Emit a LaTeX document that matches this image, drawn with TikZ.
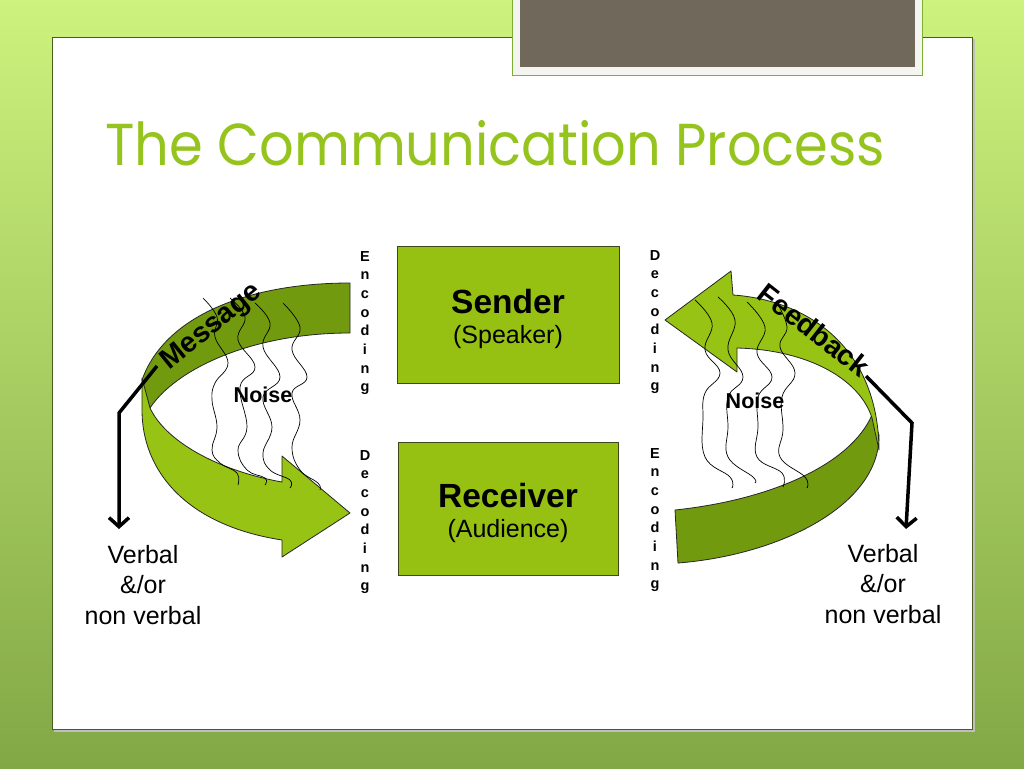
\documentclass[tikz,border=0pt]{standalone}
\usepackage{fontspec}
\setmainfont{Liberation Sans}
\newfontfamily\titlefont{Poppins}
\usetikzlibrary{arrows.meta}
\definecolor{bandlight}{RGB}{150,195,20}
\definecolor{banddark}{RGB}{114,154,14}
\definecolor{boxfill}{RGB}{150,192,18}
\definecolor{boxline}{RGB}{60,72,25}
\definecolor{titlegreen}{RGB}{150,196,30}
\definecolor{bgtop}{RGB}{205,242,125}
\definecolor{bgbot}{RGB}{130,168,70}
\definecolor{panelline}{RGB}{70,95,30}
\definecolor{photo}{RGB}{112,104,90}
\definecolor{frameedge}{RGB}{125,175,50}
\definecolor{framefill}{RGB}{244,244,240}
\tikzset{
  band/.style={draw=black!85, line width=0.8pt, line join=round},
  cbox/.style={draw=boxline, fill=boxfill, line width=1pt, inner sep=0pt},
  vlet/.style={font=\bfseries\fontsize{14.5}{18.7}\selectfont, align=center, inner sep=0pt},
  noise/.style={draw=black, line width=0.7pt},
  biglabel/.style={font=\bfseries\fontsize{28.5}{30}\selectfont, inner sep=0pt},
  noiselabel/.style={font=\bfseries\fontsize{21.5}{22}\selectfont, inner sep=0pt, anchor=base},
  verbal/.style={font=\fontsize{25}{30.5}\selectfont, align=center, inner sep=0pt},
  pointer/.style={draw=black, line width=3.5pt, line join=miter, -{Straight Barb[length=9pt,width=20pt]}},
}
\begin{document}
\begin{tikzpicture}[x=1pt,y=-1pt]
\useasboundingbox (0,0) rectangle (1024,768);
% background
\shade[top color=bgtop, bottom color=bgbot] (0,0) rectangle (1024,768);
% white panel
\fill[black!25] (54,39) rectangle (975,732);
\filldraw[fill=white, draw=panelline, line width=0.8pt] (52,37) rectangle (972,729);
% picture frame at top
\fill[framefill, draw=frameedge, line width=1pt] (512,-2) rectangle (922,75);
\fill[photo] (520,-2) rectangle (915,67);

% title
\node[anchor=base west, inner sep=0pt, text=titlegreen] (title) at (105,165)
  {\resizebox{780pt}{45pt}{\titlefont The Communication Process}};

% boxes
\node[cbox, minimum width=222pt, minimum height=137pt] (sender) at (508,315) {};
\node[cbox, minimum width=220pt, minimum height=133pt] (receiver) at (508,508.5) {};
\node[anchor=base, inner sep=0pt, font=\bfseries\fontsize{33.5}{34}\selectfont] (sendert) at (508,313) {Sender};
\node[anchor=base, inner sep=0pt, font=\fontsize{25}{26}\selectfont] (speakert) at (508,343) {(Speaker)};
\node[anchor=base, inner sep=0pt, font=\bfseries\fontsize{33.5}{34}\selectfont] (receivert) at (508,507) {Receiver};
\node[anchor=base, inner sep=0pt, font=\fontsize{25}{26}\selectfont] (audiencet) at (508,537) {(Audience)};

% vertical words
\node[vlet] (encL) at (365,323) {E\\n\\c\\o\\d\\i\\n\\g};
\node[vlet] (decL) at (365,522) {D\\e\\c\\o\\d\\i\\n\\g};
\node[vlet] (decR) at (655,322) {D\\e\\c\\o\\d\\i\\n\\g};
\node[vlet] (encR) at (655,520) {E\\n\\c\\o\\d\\i\\n\\g};

% left ribbon (message)
\path[band, fill=banddark] (350,283) .. controls (250,283) and (165,315) .. (142,380)
  -- (150,408) .. controls (175,370) and (250,333) .. (350,333) -- cycle;
\path[band, fill=bandlight] (142,378) -- (142,410) .. controls (142,470) and (185,525) .. (282,540)
  -- (282,557) -- (350,513) -- (282,456) -- (282,482)
  .. controls (215,470) and (165,440) .. (150,408) -- cycle;

% right ribbon (feedback)
\path[band, fill=banddark] (675,510) -- (678,563) .. controls (780,555) and (880,505) .. (879,435)
  -- (872,415) .. controls (850,465) and (770,500) .. (675,510) -- cycle;
\path[band, fill=bandlight] (733,295) .. controls (805,300) and (878,345) .. (879,450)
  -- (872,418) .. controls (860,380) and (810,350) .. (737,348)
  -- (737,372) -- (665,320) -- (731,271) -- cycle;

% noise lines left
\draw[noise] plot[smooth, tension=0.7] coordinates {(203,298) (217,317) (215,337) (228,363) (215,383) (212,400) (217,427) (212,450) (220,463) (237,473) (238,485)};
\draw[noise] plot[smooth, tension=0.7] coordinates {(230,298) (245,317) (238,340) (255,367) (240,387) (247,427) (238,450) (247,470) (265,478) (265,485)};
\draw[noise] plot[smooth, tension=0.7] coordinates {(255,303) (270,323) (263,347) (280,377) (263,397) (272,427) (263,453) (270,470) (290,480) (290,488)};
\draw[noise] plot[smooth, tension=0.7] coordinates {(283,303) (300,327) (292,350) (307,377) (292,393) (300,420) (292,447) (300,470) (318,483) (320,490)};
% noise lines right
\draw[noise] plot[smooth, tension=0.7] coordinates {(695,300) (712,323) (705,350) (720,373) (705,393) (703,417) (705,457) (730,477) (732,488)};
\draw[noise] plot[smooth, tension=0.7] coordinates {(718,297) (735,320) (728,350) (743,377) (728,397) (728,427) (728,457) (753,477) (755,483)};
\draw[noise] plot[smooth, tension=0.7] coordinates {(747,302) (765,327) (757,353) (772,377) (758,397) (758,427) (757,457) (782,473) (783,487)};
\draw[noise] plot[smooth, tension=0.7] coordinates {(777,303) (787,327) (780,347) (795,373) (782,397) (783,430) (780,457) (805,477) (807,488)};

% labels on ribbons
\node[biglabel, rotate=39] (message) at (212,327) {Message};
\node[biglabel, rotate=-38] (feedback) at (814,330) {Feedback};
\node[noiselabel] (noiseL) at (263,402) {Noise};
\node[noiselabel] (noiseR) at (755,408) {Noise};

% verbal texts
\node[verbal] (verbalL) at (143,585) {Verbal\\\&/or\\non verbal};
\node[verbal] (verbalR) at (883,584) {Verbal\\\&/or\\non verbal};

% pointers
\coordinate (lstart) at (157,366);
\coordinate (lbend) at (119,413);
\coordinate (ltip) at (119,529);
\draw[pointer] (lstart) -- (lbend) -- (ltip);
\coordinate (rstart) at (866,376);
\coordinate (rbend) at (912,423);
\coordinate (rtip) at (906,529);
\draw[pointer] (rstart) -- (rbend) -- (rtip);
\end{tikzpicture}
\end{document}
